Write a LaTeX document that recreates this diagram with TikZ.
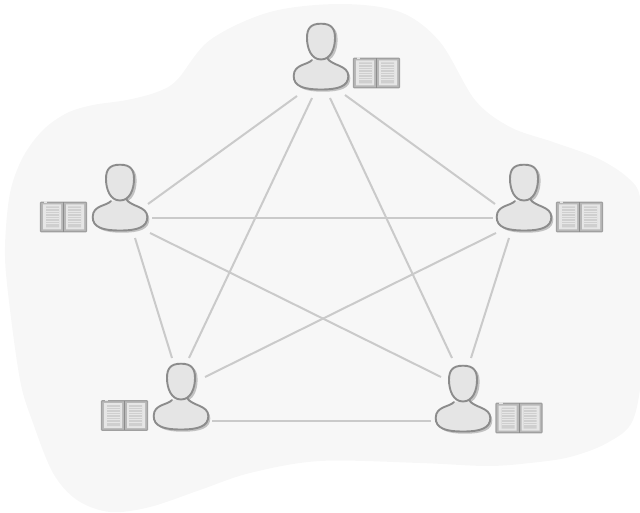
\documentclass[tikz,border=0pt]{standalone}
\usetikzlibrary{calc}
\definecolor{blobc}{HTML}{F7F7F7}
\definecolor{linkc}{HTML}{CACACA}
\definecolor{personc}{HTML}{E5E5E5}
\definecolor{strokec}{HTML}{8C8C8C}
\definecolor{shadowc}{HTML}{C2C2C2}
\definecolor{bookc}{HTML}{B8B8B8}
\definecolor{bookedge}{HTML}{A0A0A0}
\definecolor{pagec}{HTML}{E6E6E6}
\definecolor{textc}{HTML}{CFCFCF}
\tikzset{
  link/.style={draw=linkc,line width=2pt},
  anchorbox/.style={inner sep=0pt,outer sep=0pt,minimum width=56pt,minimum height=68pt},
  bookbox/.style={inner sep=0pt,outer sep=0pt,minimum width=47pt,minimum height=31pt},
  personshape/.pic={
    \def\headpath{(0,-17.3) .. controls (10.5,-17.3) and (14,-12.5) .. (14,-3) .. controls (14,7) and (10,18.5) .. (0,18.5) .. controls (-10,18.5) and (-14,7) .. (-14,-3) .. controls (-14,-12.5) and (-10.5,-17.3) .. (0,-17.3) -- cycle}
    \def\bodypath{(-9,19) .. controls (-13,24) and (-27.3,23) .. (-27.3,35) .. controls (-27.3,45) and (-18,48.5) .. (0,48.5) .. controls (18,48.5) and (27.3,45) .. (27.3,35) .. controls (27.3,24) and (11,25) .. (6,17)}
    \fill[shadowc,shift={(2.6,1.8)}] \headpath;
    \fill[shadowc,shift={(2,2.2)}] \bodypath -- cycle;
    \fill[personc] \bodypath -- cycle;
    \draw[strokec,line width=1.9pt,line cap=round] \bodypath;
    \filldraw[fill=personc,draw=strokec,line width=1.9pt] \headpath;
  },
  bookshape/.pic={
    \filldraw[fill=bookc,draw=bookedge,line width=1.3pt,rounded corners=.8pt] (-23,-14.8) rectangle (23,14.8);
    \fill[white!90!black] (-20,-15.6) rectangle (-16.5,-14.4);
    \draw[strokec,line width=.9pt] (0,-14.8) -- (0,14.8);
    \fill[pagec] (-20.5,-12.5) rectangle (-2.5,12.5) (2.5,-12.5) rectangle (20.5,12.5);
    \fill[textc] (-17.5,-10.5) rectangle (-4.5,10.5) (4.5,-10.5) rectangle (17.5,10.5);
    \foreach \yy in {-8.5,-6,...,8.6}{
      \draw[pagec,line width=.8pt] (-17.5,\yy) -- (-4.5,\yy) (4.5,\yy) -- (17.5,\yy);
    }
  }
}
\begin{document}
\begin{tikzpicture}[x=1pt,y=-1pt]
\useasboundingbox (0,0) rectangle (640,513);
\clip (0,0) rectangle (640,513);
% background blob
\fill[blobc] plot[smooth cycle,tension=.55] coordinates {
  (340,4) (400,12) (440,42) (475,100) (510,127) (553,142) (597,158) (627,177) (640,197)
  (641,250) (640,300) (643,360) (633,420) (607,443) (570,457) (530,463) (487,466) (420,463)
  (320,461) (250,473) (200,490) (150,507) (110,512) (77,500) (53,473) (33,423) (20,380)
  (8,293) (5,247) (10,193) (23,157) (43,130) (67,113) (93,105) (127,100) (157,92) (177,80)
  (210,40) (270,12)};
% person anchors (head centres)
\node[anchorbox] (A) at (321,41) {};
\node[anchorbox] (B) at (120,182) {};
\node[anchorbox] (C) at (524,182) {};
\node[anchorbox] (D) at (181,381) {};
\node[anchorbox] (E) at (463,383) {};
% connectors
\draw[link] ($(A)+(-24,55)$) -- ($(B)+(28,22)$);
\draw[link] ($(A)+(-9,57)$) -- ($(D)+(8,-23)$);
\draw[link] ($(A)+(9,57)$) -- ($(E)+(-11,-25)$);
\draw[link] ($(A)+(24,54)$) -- ($(C)+(-29,22)$);
\draw[link] ($(B)+(32,36)$) -- ($(C)+(-31,36)$);
\draw[link] ($(B)+(15,56)$) -- ($(D)+(-9,-23)$);
\draw[link] ($(B)+(30,51)$) -- ($(E)+(-22,-6)$);
\draw[link] ($(C)+(-28,51)$) -- ($(D)+(24,-4)$);
\draw[link] ($(C)+(-15,56)$) -- ($(E)+(8,-25)$);
\draw[link] ($(D)+(31,40)$) -- ($(E)+(-32,38)$);
% people
\pic at (A) {personshape};
\pic at (B) {personshape};
\pic at (C) {personshape};
\pic at (D) {personshape};
\pic at (E) {personshape};
% books
\node[bookbox] (bookA) at (376.5,73) {}; \pic at (bookA) {bookshape};
\node[bookbox] (bookB) at (63.5,217) {}; \pic at (bookB) {bookshape};
\node[bookbox] (bookC) at (579.5,217) {}; \pic at (bookC) {bookshape};
\node[bookbox] (bookD) at (124.5,415.5) {}; \pic at (bookD) {bookshape};
\node[bookbox] (bookE) at (519,418) {}; \pic at (bookE) {bookshape};
\end{tikzpicture}
\end{document}
